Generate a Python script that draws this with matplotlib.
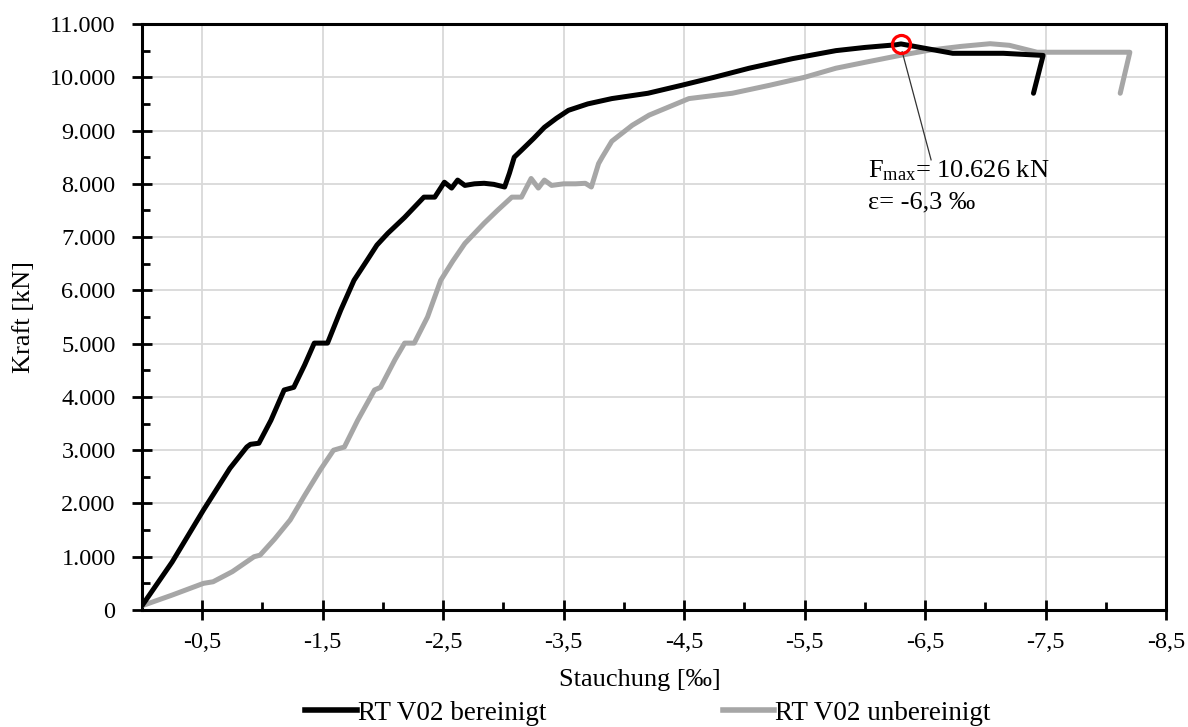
import matplotlib
matplotlib.use("Agg")
import matplotlib.pyplot as plt
from matplotlib.ticker import FuncFormatter, MultipleLocator
from matplotlib.lines import Line2D

plt.rcParams['font.family'] = ['Liberation Serif', 'DejaVu Serif']
plt.rcParams['mathtext.fontset'] = 'custom'
plt.rcParams['mathtext.rm'] = 'Liberation Serif'
plt.rcParams['mathtext.it'] = 'Liberation Serif:italic'

# --- data (Stauchung in permille, Kraft in kN) ---
x_bereinigt = [0, -0.25, -0.51, -0.73, -0.87, -0.90, -0.97, -1.07, -1.18, -1.26, -1.35, -1.43,
               -1.54, -1.65, -1.76, -1.87, -1.95, -2.04, -2.18, -2.34, -2.43, -2.51, -2.57,
               -2.62, -2.68, -2.76, -2.84, -2.92, -3.01, -3.05, -3.09, -3.15, -3.25, -3.34,
               -3.44, -3.54, -3.7, -3.9, -4.2, -4.48, -4.75, -5.04, -5.4, -5.76, -6.0, -6.26,
               -6.3, -6.46, -6.73, -7.15, -7.48, -7.40]
y_bereinigt = [80, 900, 1876, 2660, 3060, 3110, 3130, 3560, 4130, 4180, 4600, 5010,
               5010, 5630, 6190, 6570, 6850, 7070, 7370, 7750, 7750, 8030, 7920,
               8070, 7970, 8000, 8010, 7990, 7940, 8200, 8500, 8630, 8850, 9060,
               9230, 9380, 9500, 9600, 9700, 9850, 10000, 10170, 10350, 10500, 10560, 10610,
               10626, 10560, 10450, 10450, 10410, 9700]

x_unbereinigt = [0, -0.25, -0.51, -0.59, -0.75, -0.93, -0.98, -1.1, -1.23, -1.35, -1.48, -1.59,
                 -1.68, -1.79, -1.93, -1.98, -2.1, -2.18, -2.26, -2.37, -2.48, -2.58, -2.68,
                 -2.84, -2.95, -3.07, -3.15, -3.23, -3.29, -3.34, -3.4, -3.5, -3.6, -3.68,
                 -3.73, -3.79, -3.82, -3.9, -4.07, -4.21, -4.54, -4.9, -5.21, -5.5, -5.76,
                 -6.0, -6.29, -6.54, -6.8, -7.04, -7.2, -7.43, -7.8, -8.2, -8.12]
y_unbereinigt = [80, 280, 500, 530, 720, 1000, 1030, 1330, 1690, 2150, 2630, 3000,
                 3060, 3560, 4130, 4180, 4700, 5010, 5010, 5500, 6190, 6550, 6880,
                 7260, 7500, 7750, 7750, 8100, 7920, 8070, 7970, 8000, 8000, 8010,
                 7940, 8380, 8500, 8800, 9100, 9290, 9600, 9700, 9850, 10000, 10170,
                 10280, 10410, 10510, 10580, 10630, 10600, 10470, 10470, 10470, 9700]

fmax_x = -6.3
fmax_y = 10626
label_b = "RT V02 bereinigt"
label_u = "RT V02 unbereinigt"
x_major = [-0.5, -1.5, -2.5, -3.5, -4.5, -5.5, -6.5, -7.5, -8.5]
x_minor = [-1, -2, -3, -4, -5, -6, -7, -8]

W, H = 1188, 727
fig = plt.figure(figsize=(W / 100, H / 100), dpi=100)
ax = fig.add_axes([142 / W, (H - 610) / H, (1166 - 142) / W, (610 - 24) / H])

ax.plot(x_unbereinigt, y_unbereinigt, color='#a6a6a6', lw=3.6, zorder=3,
        solid_capstyle='round')
ax.plot(x_bereinigt, y_bereinigt, color='black', lw=3.6, zorder=4,
        solid_capstyle='round')

ax.plot([fmax_x], [fmax_y], marker='o', ms=13, mfc='none', mec='#ff0000', mew=2.3, zorder=6)
ax.plot([-6.31, -6.55], [10480, 8450], color='#333333', lw=0.9, zorder=5)
ax.text(-6.03, 8120, r'F$_{\mathrm{max}}$= 10.626 kN', fontsize=19, va='baseline', ha='left')
ax.text(-6.03, 7540, 'ε= -6,3 ‰', fontsize=19, va='baseline', ha='left')

ax.set_xlim(0, -8.5)
ax.set_ylim(0, 11000)
ax.set_xticks(x_major)
ax.set_xticks(x_minor, minor=True)
ax.yaxis.set_major_locator(MultipleLocator(1000))
ax.yaxis.set_minor_locator(MultipleLocator(500))
ax.xaxis.set_major_formatter(FuncFormatter(lambda v, p: f"{v:.1f}".replace('.', ',')))
ax.yaxis.set_major_formatter(FuncFormatter(lambda v, p: f"{int(round(v)):,}".replace(',', '.')))

ax.grid(True, which='major', color='#d9d9d9', lw=1.3, zorder=0)
ax.set_axisbelow(True)
for s in ax.spines.values():
    s.set_linewidth(2.2)
    s.set_color('black')

ax.tick_params(which='major', direction='inout', length=14, width=2, labelsize=17.5)
ax.tick_params(which='minor', direction='in', length=6, width=2)
ax.tick_params(axis='y', which='major', pad=12)
ax.tick_params(axis='x', which='major', pad=9)

ax.set_xlabel('Stauchung [‰]', fontsize=19)
ax.xaxis.set_label_coords((640 - 142) / 1024, -(680 - 610) / 586, transform=ax.transAxes)
ax.xaxis.label.set_va('center')
ax.set_ylabel('Kraft [kN]', fontsize=19, labelpad=10)

handles = [Line2D([], [], color='black', lw=4), Line2D([], [], color='#a6a6a6', lw=4)]
fig.legend(handles, [label_b, label_u], loc='center', bbox_to_anchor=(648 / W, 14 / H),
           ncol=2, frameon=False, fontsize=19.5, handlelength=1.9, handletextpad=0.05,
           columnspacing=6.5, borderpad=0)

fig.savefig('out.png', dpi=100)
